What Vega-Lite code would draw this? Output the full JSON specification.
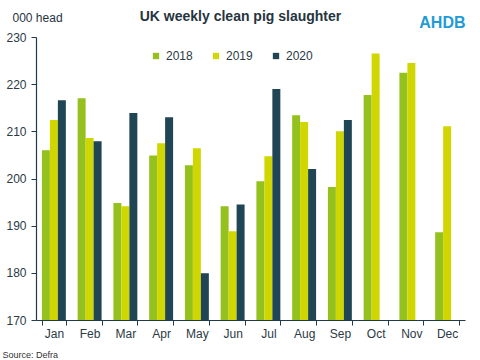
{
  "$schema": "https://vega.github.io/schema/vega-lite/v6.json",
  "autosize": "none",
  "width": 429,
  "height": 283,
  "padding": {"left": 36, "top": 37, "right": 15, "bottom": 40},
  "background": "white",
  "config": {
    "view": {"stroke": null},
    "font": "Liberation Sans"
  },
  "data": {
    "values": [
      {"month": "Jan", "year": "2018", "v": 206.0},
      {"month": "Jan", "year": "2019", "v": 212.4},
      {"month": "Jan", "year": "2020", "v": 216.6},
      {"month": "Feb", "year": "2018", "v": 217.0},
      {"month": "Feb", "year": "2019", "v": 208.6},
      {"month": "Feb", "year": "2020", "v": 207.9},
      {"month": "Mar", "year": "2018", "v": 194.8},
      {"month": "Mar", "year": "2019", "v": 194.1},
      {"month": "Mar", "year": "2020", "v": 213.9},
      {"month": "Apr", "year": "2018", "v": 204.9},
      {"month": "Apr", "year": "2019", "v": 207.5},
      {"month": "Apr", "year": "2020", "v": 213.0},
      {"month": "May", "year": "2018", "v": 202.8},
      {"month": "May", "year": "2019", "v": 206.4},
      {"month": "May", "year": "2020", "v": 179.9},
      {"month": "Jun", "year": "2018", "v": 194.1},
      {"month": "Jun", "year": "2019", "v": 188.8},
      {"month": "Jun", "year": "2020", "v": 194.5},
      {"month": "Jul", "year": "2018", "v": 199.4},
      {"month": "Jul", "year": "2019", "v": 204.7},
      {"month": "Jul", "year": "2020", "v": 219.0},
      {"month": "Aug", "year": "2018", "v": 213.4},
      {"month": "Aug", "year": "2019", "v": 212.0},
      {"month": "Aug", "year": "2020", "v": 202.0},
      {"month": "Sep", "year": "2018", "v": 198.2},
      {"month": "Sep", "year": "2019", "v": 210.0},
      {"month": "Sep", "year": "2020", "v": 212.4},
      {"month": "Oct", "year": "2018", "v": 217.7},
      {"month": "Oct", "year": "2019", "v": 226.5},
      {"month": "Nov", "year": "2018", "v": 222.4},
      {"month": "Nov", "year": "2019", "v": 224.5},
      {"month": "Dec", "year": "2018", "v": 188.6},
      {"month": "Dec", "year": "2019", "v": 211.1}
    ]
  },
  "layer": [
    {
      "mark": {"type": "bar", "clip": true},
      "encoding": {
        "x": {
          "field": "month",
          "type": "nominal",
          "sort": ["Jan","Feb","Mar","Apr","May","Jun","Jul","Aug","Sep","Oct","Nov","Dec"],
          "scale": {"paddingInner": 0.33, "paddingOuter": 0.165},
          "axis": {
            "title": "Source: Defra",
            "titleX": -34,
            "titleY": 37,
            "titleAlign": "left",
            "titleBaseline": "alphabetic",
            "titleFont": "Liberation Sans",
            "titleFontSize": 9,
            "titleFontWeight": "normal",
            "titleColor": "#333333",
            "labelAngle": 0,
            "labelFont": "Liberation Sans",
            "labelFontSize": 12,
            "labelColor": "#2B3A44",
            "labelPadding": 3,
            "tickBand": "extent",
            "tickSize": 5,
            "tickColor": "#1F3B4D",
            "domainColor": "#1F3B4D",
            "domainWidth": 1.2
          }
        },
        "xOffset": {"field": "year", "type": "nominal", "scale": {"paddingInner": 0, "paddingOuter": 0}},
        "y": {
          "field": "v",
          "type": "quantitative",
          "scale": {"domain": [170, 230], "nice": false, "zero": false},
          "axis": {
            "values": [170, 180, 190, 200, 210, 220, 230],
            "grid": false,
            "title": "000 head",
            "titleAngle": 0,
            "titleX": -24,
            "titleY": -16,
            "titleAlign": "left",
            "titleBaseline": "alphabetic",
            "titleFont": "Liberation Sans",
            "titleFontSize": 12,
            "titleFontWeight": "normal",
            "titleColor": "#26343E",
            "labelFont": "Liberation Sans",
            "labelFontSize": 12,
            "labelColor": "#2B3A44",
            "labelPadding": 5,
            "tickSize": 5,
            "tickColor": "#1F3B4D",
            "domainColor": "#1F3B4D",
            "domainWidth": 1.2
          }
        },
        "color": {
          "field": "year",
          "type": "nominal",
          "scale": {"domain": ["2018", "2019", "2020"], "range": ["#95C11F", "#D0D700", "#204555"]},
          "legend": {
            "title": null,
            "orient": "none",
            "legendX": 114,
            "legendY": 13,
            "direction": "horizontal",
            "symbolType": "square",
            "symbolSize": 40,
            "symbolStrokeWidth": 0,
            "labelFont": "Liberation Sans",
            "labelFontSize": 12,
            "labelColor": "#2B3A44",
            "labelOffset": 4,
            "columnPadding": 17
          }
        }
      }
    },
    {
      "mark": {"type": "bar", "opacity": 0, "clip": true},
      "encoding": {
        "x": {
          "field": "month",
          "type": "nominal",
          "sort": ["Jan","Feb","Mar","Apr","May","Jun","Jul","Aug","Sep","Oct","Nov","Dec"],
          "axis": {
            "orient": "top",
            "labels": false,
            "ticks": false,
            "domain": false,
            "grid": false,
            "title": "UK weekly  clean pig slaughter",
            "titleX": 204,
            "titleY": -17,
            "titleAlign": "center",
            "titleBaseline": "alphabetic",
            "titleFont": "Liberation Sans",
            "titleFontSize": 14,
            "titleFontWeight": "bold",
            "titleColor": "#26343E"
          }
        },
        "y": {
          "field": "v",
          "type": "quantitative",
          "axis": {
            "orient": "right",
            "labels": false,
            "ticks": false,
            "domain": false,
            "grid": false,
            "title": "AHDB",
            "titleAngle": 0,
            "titleX": 0,
            "titleY": -10,
            "titleAlign": "right",
            "titleBaseline": "alphabetic",
            "titleFont": "Liberation Sans",
            "titleFontSize": 16,
            "titleFontWeight": "bold",
            "titleColor": "#1E9BD7"
          }
        }
      }
    }
  ],
  "resolve": {"axis": {"y": "independent", "x": "independent"}}
}
